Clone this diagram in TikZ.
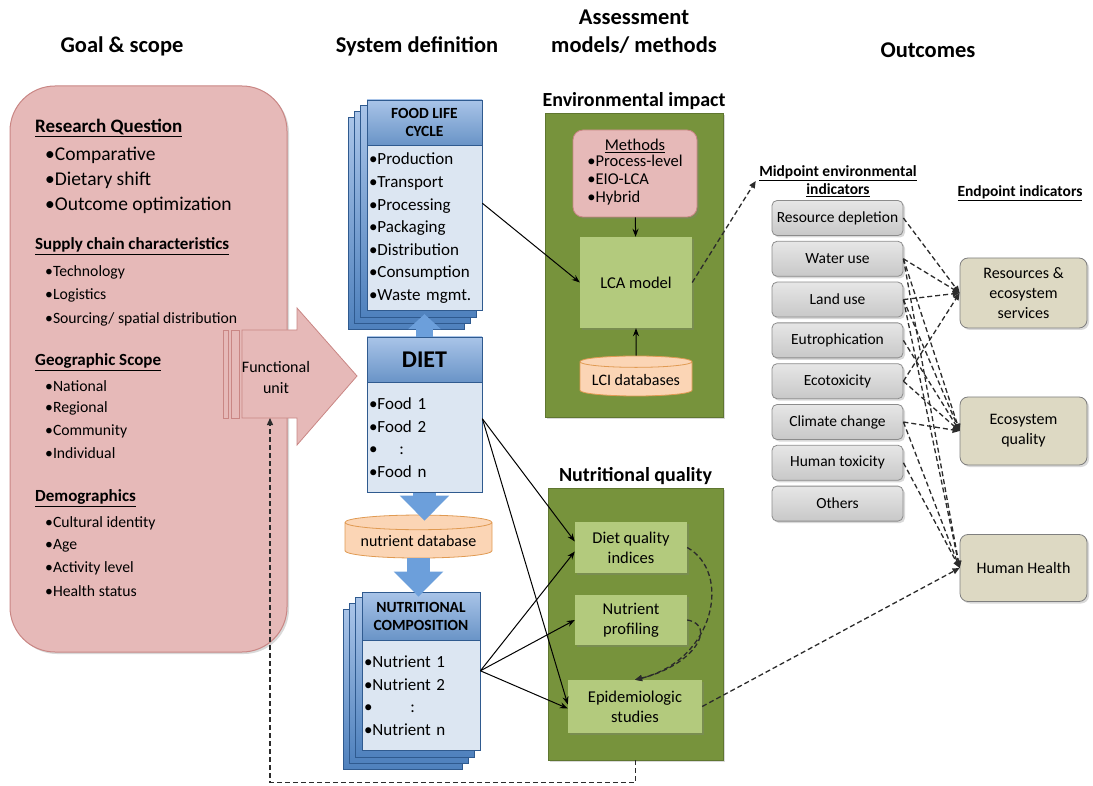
\documentclass[tikz,border=0pt]{standalone}
\usepackage{fontspec}
\setmainfont{Carlito}
\usetikzlibrary{positioning, shapes.geometric, arrows.meta, calc, backgrounds, shadows}
\definecolor{goalpink}{HTML}{E6B9B8}
\definecolor{goaledge}{HTML}{C98684}
\definecolor{cardblue}{HTML}{4F81BD}
\definecolor{cardtop}{HTML}{A9C4E8}
\definecolor{cardlight}{HTML}{DCE6F2}
\definecolor{cardedge}{HTML}{2F5A8F}
\definecolor{flowblue}{HTML}{6C9FDB}
\definecolor{dbpeach}{HTML}{FBD5B5}
\definecolor{dbedge}{HTML}{E09A52}
\definecolor{assessgreen}{HTML}{77933C}
\definecolor{modelgreen}{HTML}{B3CA7D}
\definecolor{midgrey}{HTML}{C8C8C8}
\definecolor{midedge}{HTML}{8C8C8C}
\definecolor{endbeige}{HTML}{DDD9C3}
\definecolor{endedge}{HTML}{7F7F7F}
\definecolor{dashgrey}{HTML}{2B2B2B}
\newcommand{\fsz}[2]{\fontsize{#1}{#2}\selectfont}

\begin{document}
\begin{tikzpicture}[
  x=1pt, y=-1pt,
  node distance=5pt,
  softshadow/.style={drop shadow={opacity=0.3, shadow xshift=2pt, shadow yshift=-2pt}},
  colhead/.style={font=\fsz{22.5}{28}\bfseries, align=center},
  grouphead/.style={font=\fsz{20}{22}\bfseries},
  secthead/.style={anchor=west, inner sep=0pt, font=\fsz{17}{19}\bfseries},
  item/.style={anchor=west, inner sep=0pt, font=\fsz{15.7}{18}},
  goalbox/.style={
    draw=goaledge, line width=1pt, fill=goalpink,
    rounded corners=45pt, minimum width=277pt, minimum height=566pt,
    softshadow
  },
  fuarrow/.style={draw=goaledge, line width=0.8pt, fill=goalpink},
  cardhead/.style={
    draw=cardedge, line width=0.8pt,
    top color=cardtop, bottom color=cardblue!85,
    font=\fsz{15.5}{18}\bfseries, align=center, inner sep=0pt
  },
  cardbody/.style={
    draw=cardedge, line width=0.8pt, fill=cardlight,
    font=\fsz{17}{22.6}, align=left, inner xsep=2pt
  },
  cardlayer/.style={draw=cardedge, line width=0.8pt, top color=cardtop, bottom color=cardblue},
  database/.style={
    cylinder, shape border rotate=90, aspect=0.12,
    draw=dbedge, fill=dbpeach, line width=0.8pt, font=\fsz{16}{18}
  },
  flowarrow/.style={flowblue, line width=17pt, -{Triangle[length=15pt, width=32pt]}},
  bigflow/.style={flowblue, line width=23pt, -{Triangle[length=25pt, width=48pt]}},
  assessbox/.style={draw=assessgreen!80!black, line width=0.6pt, fill=assessgreen, softshadow},
  modelbox/.style={fill=modelgreen, align=center, font=\fsz{16.5}{20}, softshadow},
  methodbox/.style={
    draw=goaledge, line width=0.8pt, fill=goalpink, rounded corners=10pt,
    align=center, font=\fsz{16.5}{18}, softshadow
  },
  midbox/.style={
    draw=midedge, line width=0.8pt, top color=midgrey!45, bottom color=midgrey,
    rounded corners=5pt, minimum width=131pt, minimum height=35pt,
    font=\fsz{15.5}{17}, softshadow
  },
  endbox/.style={
    draw=endedge, line width=0.8pt, fill=endbeige, rounded corners=8pt,
    minimum width=127pt, align=center, font=\fsz{16}{20}, softshadow
  },
  link/.style={-{Stealth[length=8pt, width=6pt]}, line width=1pt},
  dashlink/.style={
    dashgrey, dash pattern=on 5pt off 3pt, line width=1.3pt,
    -{Triangle[length=7pt, width=6pt]}
  }
]
  \useasboundingbox (0,0) rectangle (1093,786);

  % --- Column headings ---
  \node[colhead] (hgoal)   at (122,46) {Goal \& scope};
  \node[colhead] (hsys)    at (417,46) {System definition};
  \node[colhead] (hassess) at (634,32) {Assessment\\models/ methods};
  \node[colhead] (hout)    at (928,50) {Outcomes};

  % --- Goal & scope panel ---
  \node[goalbox] (goal) at (148.5,369) {};
  \node[secthead, font=\fsz{19}{21}\bfseries] (rq) at (35,128) {\underline{Research Question}};
  \foreach \t [count=\i] in {Comparative, Dietary shift, Outcome optimization}
    \node[item, font=\fsz{19.5}{21}] (rq\i) at (45,{130+25*\i}) {•\t};
  \node[secthead] (sc) at (35,246) {\underline{Supply chain characteristics}};
  \foreach \t [count=\i] in {Technology, Logistics, Sourcing/ spatial distribution}
    \node[item] (sc\i) at (45,{248.5+23.5*\i}) {•\t};
  \node[secthead] (gs) at (35,362) {\underline{Geographic Scope}};
  \foreach \t [count=\i] in {National, Regional, Community, Individual}
    \node[item] (gs\i) at (45,{363.5+22.5*\i}) {•\t};
  \node[secthead] (dm) at (35,498) {\underline{Demographics}};
  \foreach \t [count=\i] in {Cultural identity, Age, Activity level, Health status}
    \node[item] (dm\i) at (45,{501+22.5*\i}) {•\t};

  % Functional unit arrow
  \draw[fuarrow] (223,330) rectangle (228,418);
  \draw[fuarrow] (231,330) rectangle (239,418);
  \draw[fuarrow] (242,330) -- (297,330) -- (297,308) -- (357,376)
                 -- (297,445) -- (297,418) -- (242,418) -- cycle;
  \node[font=\fsz{16}{21}, align=center] (fu) at (276,378) {Functional\\unit};
  \coordinate (fuin) at (270,418);

  % --- System definition ---
  \node[cardhead, minimum width=115pt, minimum height=45pt] (flchead) at (424.5,122.5) {FOOD LIFE\\CYCLE};
  \node[cardbody, text width=111pt, minimum height=165pt, below=0pt of flchead] (flcbody)
       {•Production\\•Transport\\•Processing\\•Packaging\\•Distribution\\•Consumption\\•Waste mgmt.};

  \node[cardhead, minimum width=115pt, minimum height=45pt, font=\fsz{24}{28}\bfseries] (diethead) at (424.5,359.5) {DIET};
  \node[cardbody, text width=111pt, minimum height=110pt, below=0pt of diethead] (dietbody)
       {•Food 1\\•Food 2\\•\hspace{22pt}:\\•Food n};

  \node[database, minimum width=147pt, minimum height=43pt] (ndb) at (418.5,541.5) {nutrient database};

  \node[cardhead, minimum width=118pt, minimum height=48pt] (nchead) at (421,616) {NUTRITIONAL\\COMPOSITION};
  \node[cardbody, text width=114pt, minimum height=110pt, below=0pt of nchead] (ncbody)
       {•Nutrient 1\\•Nutrient 2\\•\hspace{38pt}:\\•Nutrient n};

  % stacked pages behind the two cards
  \begin{scope}[on background layer]
    \foreach \o in {18,12,6} {
      \draw[cardlayer] ($(flchead.north west)+(-\o,\o)$) rectangle ($(flcbody.south east)+(-\o,\o)$);
      \draw[cardlayer] ($(nchead.north west)+(-\o,\o)$) rectangle ($(ncbody.south east)+(-\o,\o)$);
    }
  \end{scope}

  \draw[flowarrow] (diethead.north) -- ($(flcbody.south)+(0,3)$);
  \draw[bigflow] (dietbody.south) -- ($(dietbody.south |- ndb.north)+(0,6)$);
  \draw[bigflow] (ndb.south) -- ($(ndb.south |- nchead.north)+(0,5)$);

  % --- Environmental impact ---
  \node[assessbox, minimum width=178pt, minimum height=304pt] (envbox) at (634,265) {};
  \node[grouphead, above=0pt of envbox] (envlabel) {Environmental impact};
  \node[methodbox, minimum width=124pt, minimum height=87pt] (methods) at (635,173.5)
       {\underline{Methods}\\\begin{tabular}{@{}l@{}}•Process-level\\•EIO-LCA\\•Hybrid\end{tabular}};
  \node[modelbox, minimum width=112pt, minimum height=91pt] (lca) at (636,282.5) {LCA model};
  \node[database, minimum width=112pt, minimum height=40pt] (lci) at (636,380) {LCI databases};

  \draw[link] (methods) -- (lca);
  \draw[link] (lci) -- (lca);
  \draw[link] ($(flcbody.east)+(0,-25)$) -- (lca.west);

  % --- Nutritional quality ---
  \node[assessbox, minimum width=175pt, minimum height=272pt] (nqbox) at (635.5,624) {};
  \node[grouphead, above=0pt of nqbox] (nqlabel) {Nutritional quality};
  \node[modelbox, minimum width=112pt, minimum height=51pt] (dqi) at (631,547.5) {Diet quality\\indices};
  \node[modelbox, minimum width=112pt, minimum height=50pt] (np)  at (631,620)   {Nutrient\\profiling};
  \node[modelbox, minimum width=134pt, minimum height=53pt] (epi) at (635,706.5) {Epidemiologic\\studies};

  \foreach \b/\s in {dqi/6, epi/2}
    \draw[link] ($(dietbody.east)+(0,-19)$) -- ([yshift=\s pt]\b.west);
  \foreach \b/\s in {dqi/-4, np/0, epi/-2}
    \draw[link] ($(ncbody.east)+(0,-25)$) -- ([yshift=\s pt]\b.west);

  \draw[dashlink] (dqi.east) .. controls ($(dqi.east)+(45,25)$) and ($(epi.north)+(80,-20)$) .. (epi.north);
  \draw[dashlink] (np.east) .. controls ($(np.east)+(30,5)$) and ($(epi.north)+(60,-15)$) .. (epi.north);

  % feedback to the functional unit
  \draw[dashlink] (nqbox.south) -- ++(0,22) -| (fuin);

  % --- Outcomes ---
  \node[font=\fsz{15.5}{18}\bfseries, align=center] (midlabel) at (838,181)
       {\underline{Midpoint environmental}\\\underline{indicators}};
  \node[font=\fsz{15.5}{18}\bfseries] (endlabel) at (1020,193) {\underline{Endpoint indicators}};

  \node[midbox]              (rd)  at (837.5,218) {Resource depletion};
  \node[midbox, below=of rd]  (wu)  {Water use};
  \node[midbox, below=of wu]  (lu)  {Land use};
  \node[midbox, below=of lu]  (eu)  {Eutrophication};
  \node[midbox, below=of eu]  (eco) {Ecotoxicity};
  \node[midbox, below=of eco] (cc)  {Climate change};
  \node[midbox, below=of cc]  (ht)  {Human toxicity};
  \node[midbox, below=of ht]  (ot)  {Others};

  \node[endbox, minimum height=70pt] (res) at (1023.5,293) {Resources \&\\ecosystem\\services};
  \node[endbox, minimum height=68pt] (eq)  at (1023.5,431) {Ecosystem\\quality};
  \node[endbox, minimum height=67pt] (hh)  at (1023.5,568) {Human Health};

  \draw[dashlink] (lca.east) -- (midlabel.west);
  \draw[dashlink] (epi.east) -- (hh.west);
  \foreach \a/\b in {rd/res, wu/res, lu/res, eco/res,
                     wu/eq, lu/eq, eu/eq, eco/eq, cc/eq,
                     wu/hh, lu/hh, cc/hh, ht/hh}
    \draw[dashlink] (\a.east) -- (\b.west);

\end{tikzpicture}
\end{document}
